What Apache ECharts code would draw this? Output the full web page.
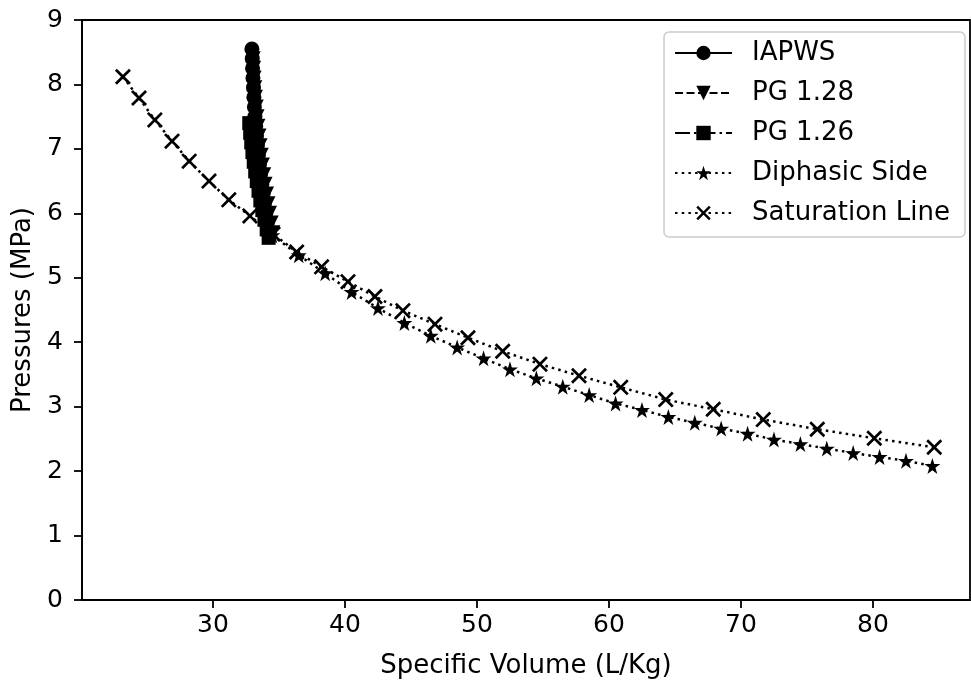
<!DOCTYPE html>
<html>
<head>
<meta charset="utf-8">
<script src="https://cdn.jsdelivr.net/npm/echarts@6/dist/echarts.min.js"></script>
<style>
  html, body { margin: 0; padding: 0; background: #fff; }
  #chart { width: 971px; height: 684px; }
</style>
</head>
<body>
<div id="chart"></div>
<script>
// IAPWS points: [specific volume (L/Kg), pressure (MPa)]
const iapws = [
  [32.95, 8.55], [32.98, 8.40], [33.00, 8.25], [33.03, 8.10], [33.07, 7.95],
  [33.10, 7.80], [33.14, 7.65], [33.18, 7.50], [33.24, 7.35], [33.30, 7.20],
  [33.37, 7.05], [33.44, 6.90], [33.52, 6.75], [33.60, 6.60], [33.70, 6.45],
  [33.80, 6.30], [33.90, 6.15], [34.00, 6.00], [34.12, 5.85], [34.25, 5.70]
];
const pg128 = [
  [33.05, 8.40], [33.08, 8.25], [33.12, 8.10], [33.17, 7.95], [33.22, 7.80],
  [33.28, 7.65], [33.34, 7.50], [33.41, 7.35], [33.49, 7.20], [33.57, 7.05],
  [33.66, 6.90], [33.75, 6.75], [33.85, 6.60], [33.95, 6.45], [34.06, 6.30],
  [34.17, 6.15], [34.29, 6.00], [34.41, 5.85], [34.54, 5.70]
];
const pg126 = [
  [32.75, 7.40], [32.82, 7.25], [32.90, 7.10], [32.99, 6.95], [33.09, 6.80],
  [33.20, 6.65], [33.32, 6.50], [33.45, 6.35], [33.59, 6.20], [33.74, 6.05],
  [33.90, 5.90], [34.07, 5.75], [34.22, 5.62]
];
const diphasic = [
  [34.50, 5.66], [36.50, 5.35], [38.50, 5.07], [40.50, 4.78], [42.50, 4.53],
  [44.50, 4.30], [46.50, 4.10], [48.50, 3.92], [50.50, 3.75], [52.50, 3.58],
  [54.50, 3.44], [56.50, 3.31], [58.50, 3.18], [60.50, 3.05], [62.50, 2.95],
  [64.50, 2.84], [66.50, 2.75], [68.50, 2.66], [70.50, 2.58], [72.50, 2.49],
  [74.50, 2.42], [76.50, 2.35], [78.50, 2.28], [80.50, 2.22], [82.50, 2.16],
  [84.50, 2.08]
];
const saturation = [
  [23.18, 8.12], [24.40, 7.79], [25.60, 7.45], [26.90, 7.12], [28.20, 6.81],
  [29.70, 6.50], [31.20, 6.21], [32.80, 5.96], [34.55, 5.68], [36.34, 5.40],
  [38.23, 5.17], [40.23, 4.94], [42.27, 4.71], [44.39, 4.49], [46.82, 4.28],
  [49.32, 4.07], [51.95, 3.86], [54.77, 3.66], [57.73, 3.48], [60.89, 3.30],
  [64.30, 3.11], [67.90, 2.96], [71.69, 2.80], [75.78, 2.65], [80.10, 2.51],
  [84.64, 2.37]
];
const xTicks = [30, 40, 50, 60, 70, 80];

const FONT = 'DejaVu Sans';
const starPath = 'path://M50,0 L61.8,35.3 L100,35.3 L69.1,57.1 L80.9,92.7 L50,70.9 L19.1,92.7 L30.9,57.1 L0,35.3 L38.2,35.3 Z';
const crossPath = 'path://M0,1.2 L1.2,0 L5,3.8 L8.8,0 L10,1.2 L6.2,5 L10,8.8 L8.8,10 L5,6.2 L1.2,10 L0,8.8 L3.8,5 Z';
const triDownPath = 'path://M0,0 L10,0 L5,10 Z';

const chart = echarts.init(document.getElementById('chart'));

function mkSeries(name, data, symbol, size, dash) {
  return {
    name: name,
    type: 'line',
    data: data,
    symbol: symbol,
    symbolSize: size,
    showAllSymbol: true,
    lineStyle: { color: '#000', width: 2.5, type: dash },
    itemStyle: { color: '#000', opacity: 1 },
    emphasis: { disabled: true }
  };
}

chart.setOption({
  animation: false,
  backgroundColor: '#fff',
  grid: {
    left: 82, right: 1, top: 20, bottom: 84,
    show: true, borderColor: '#000', borderWidth: 1.8
  },
  legend: {
    orient: 'vertical',
    right: 6, top: 32,
    itemWidth: 57, itemHeight: 18, itemGap: 12,
    padding: [7, 15, 10, 10],
    borderColor: '#cccccc', borderWidth: 1.5, borderRadius: 5,
    textStyle: { fontFamily: FONT, fontSize: 26, lineHeight: 28, color: '#000', padding: [0, 0, 0, 15] },
    data: ['IAPWS', 'PG 1.28', 'PG 1.26', 'Diphasic Side', 'Saturation Line']
  },
  xAxis: {
    type: 'value',
    min: 20.08, max: 87.35,
    name: 'Specific Volume (L/Kg)',
    nameLocation: 'middle', nameGap: 53,
    nameTextStyle: { fontFamily: FONT, fontSize: 26, color: '#000' },
    axisLine: { show: true, lineStyle: { color: '#000', width: 1.8 } },
    axisTick: { show: true, inside: false, length: 8, customValues: xTicks, lineStyle: { color: '#000', width: 1.8 } },
    axisLabel: { customValues: xTicks, margin: 13, fontFamily: FONT, fontSize: 25, color: '#000' },
    splitLine: { show: false }
  },
  yAxis: {
    type: 'value',
    min: 0, max: 9, interval: 1,
    name: 'Pressures (MPa)',
    nameLocation: 'middle', nameGap: 41,
    nameTextStyle: { fontFamily: FONT, fontSize: 26, color: '#000' },
    axisLine: { show: true, lineStyle: { color: '#000', width: 1.8 } },
    axisTick: { show: true, inside: false, length: 8, lineStyle: { color: '#000', width: 1.8 } },
    axisLabel: { margin: 19, fontFamily: FONT, fontSize: 25, color: '#000' },
    splitLine: { show: false }
  },
  series: [
    mkSeries('IAPWS', iapws, 'circle', 15, 'solid'),
    mkSeries('PG 1.28', pg128, triDownPath, 15, [8, 3.5]),
    mkSeries('PG 1.26', pg126, 'rect', 14, [15, 4, 2.5, 4]),
    mkSeries('Diphasic Side', diphasic, starPath, 16, [2.5, 4.2]),
    mkSeries('Saturation Line', saturation, crossPath, 16, [2.5, 4.2])
  ]
});
</script>
</body>
</html>
